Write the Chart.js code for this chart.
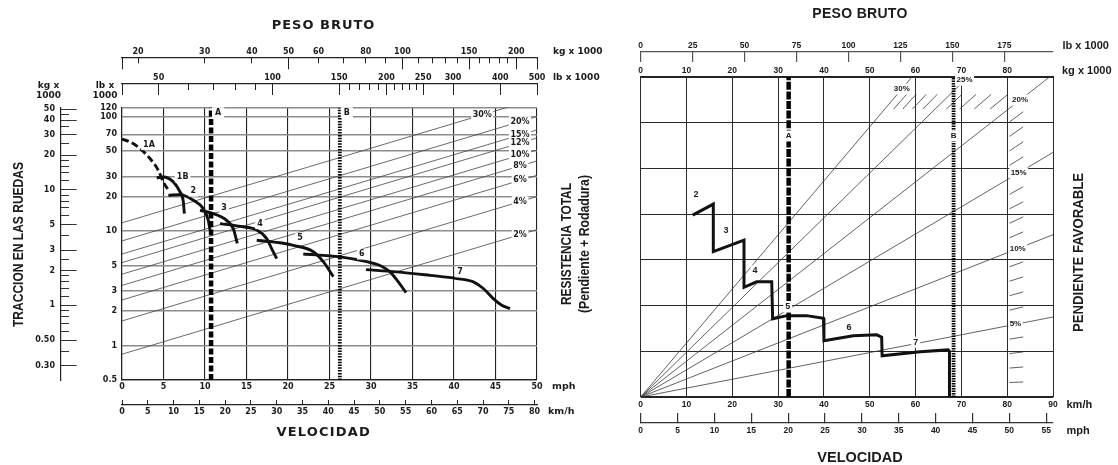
<!DOCTYPE html>
<html lang="es">
<head>
<meta charset="utf-8">
<title>Traccion en las ruedas / Pendiente favorable</title>
<script src="https://cdn.jsdelivr.net/npm/chart.js@4.4.1/dist/chart.umd.min.js"></script>
<style>
  html, body { margin: 0; padding: 0; background: #fff; }
  #sheet { position: relative; width: 1118px; height: 465px; overflow: hidden; }
  #sheet canvas { position: absolute; left: 0; top: 0; }
</style>
</head>
<body>
<div id="sheet">
  <canvas id="traccion" width="1118" height="465"></canvas>
  <canvas id="retardador" width="1118" height="465"></canvas>
</div>
<script>
const KG_PER_LB = 0.45359237;
const KMH_PER_MPH = 1.609344;

// ---------- left chart: rimpull (lb x 1000) vs speed (mph) ----------
const mphTicksL = [0, 5, 10, 15, 20, 25, 30, 35, 40, 45, 50];
const kmhTicksL = [0, 5, 10, 15, 20, 25, 30, 35, 40, 45, 50, 55, 60, 65, 70, 75, 80];
const lbSideTicks = [0.5, 1, 2, 3, 5, 10, 20, 30, 50, 70, 100, 120];
const kgSideTicks = [0.3, 0.4, 0.5, 0.6, 0.7, 0.8, 0.9, 1, 1.2, 1.4, 1.6, 1.8, 2, 2.5, 3, 4, 5,
                     6, 7, 8, 9, 10, 12, 14, 16, 18, 20, 25, 30, 35, 40, 45, 50];
const kgSideLabelled = [0.3, 0.5, 1, 2, 3, 5, 10, 20, 30, 40, 50];
const kgSideRange = [0.226, 51.6];   // as printed, slightly off the exact lb conversion
const lbTopTicks = [40, 50, 60, 70, 80, 90, 100, 150, 160, 170, 180, 190, 200, 210, 220, 230, 240, 250, 300, 400, 500];
const lbTopLabelled = [50, 100, 150, 200, 250, 300, 400, 500];
const kgTopTicks = [20, 30, 40, 50, 60, 70, 80, 90, 100, 110, 120, 130, 140, 150, 160, 170, 180, 190, 200];
const kgTopLabelled = [20, 30, 40, 50, 60, 80, 100, 150, 200];
const kgTopMajor = [50, 100, 150, 200];

// total resistance lines, rimpull read at 0 mph and at 50 mph
const gradeNamesL = ['30%', '20%', '15%', '12%', '10%', '8%', '6%', '4%', '2%'];
const gradeLb0 = [11.8, 8.2, 6.3, 5.3, 4.2, 3.35, 2.5, 1.64, 0.84];
const gradeLb50 = [144, 100, 76.5, 65, 51, 41, 30.7, 20, 10.3];

// gear curves
const gearNames = ['1A', '1B', '2', '3', '4', '5', '6', '7'];
const gearMph = [
  [0, 0.96, 2.17, 3.37, 4.37, 4.98, 5.58],
  [4.18, 4.98, 6.18, 6.99, 7.39, 7.51],
  [5.58, 6.99, 8.59, 9.8, 10.4, 10.6],
  [9.4, 11.0, 12.61, 13.41, 13.89],
  [11.81, 14.61, 16.23, 17.43, 18.04, 18.64],
  [16.23, 17.83, 19.04, 20.64, 23.05, 24.25, 25.46],
  [21.84, 26.27, 29.48, 31.08, 32.29, 33.29, 34.22],
  [29.4, 33.1, 37.11, 40.33, 42.33, 43.53, 44.73, 45.75, 46.75]
];
const gearLb = [
  [63.4, 60.1, 52.5, 43.0, 34.0, 26.9, 22.7],
  [29.1, 29.7, 26.9, 22.0, 18.0, 14.2],
  [20.5, 20.8, 18.6, 15.7, 12.4, 10.2],
  [15.2, 14.2, 12.4, 10.5, 7.8],
  [11.6, 10.9, 10.2, 8.6, 7.0, 5.75],
  [8.3, 8.1, 7.9, 7.5, 6.6, 5.4, 4.0],
  [6.3, 5.95, 5.4, 5.0, 4.4, 3.6, 2.9],
  [4.6, 4.4, 4.1, 3.85, 3.6, 3.15, 2.57, 2.25, 2.1]
];

// empty / loaded weight (kg x 1000)
const markerNames = ['A', 'B'];
const markerWeightLeft = [31.2, 68.3];

// ---------- right chart: retarder, speed (km/h) vs gross weight ----------
const kmhTicksR = [0, 10, 20, 30, 40, 50, 60, 70, 80, 90];
const mphTicksR = [0, 5, 10, 15, 20, 25, 30, 35, 40, 45, 50, 55];
const kgTicksR = [0, 10, 20, 30, 40, 50, 60, 70, 80];
const lbTicksR = [0, 25, 50, 75, 100, 125, 150, 175];
const rowTicksR = [0, 1, 2, 3, 4, 5, 6, 7];

const gradeNamesR = ['5%', '10%', '15%', '20%', '25%', '30%'];
const gradeHeight90 = [1.75, 3.55, 5.35, 7.06, 8.82, 10.64];   // height reached at 90 t
const risePerGrade = 0.354;                                    // same, per 1 % of grade
const stubGradesSide = [1, 2, 3, 4, 6, 7, 8, 9, 11, 12, 13, 14, 16, 17, 18, 19];
const stubGradesTop = [21, 22, 23, 24, 26, 27, 28, 29];

const gearNamesR = ['2', '3', '4', '5', '6', '7'];
const retarderKmh = [11.35, 15.85, 15.85, 22.55, 22.55, 25.3, 28.6, 28.8, 31.9, 36.2, 39.9, 40.0,
                     46.4, 51.5, 52.6, 52.7, 61.0, 67.1, 67.4, 67.4];
const retarderRow = [3.98, 4.22, 3.18, 3.43, 2.40, 2.52, 2.52, 1.71, 1.78, 1.78, 1.72, 1.23,
                     1.34, 1.36, 1.31, 0.90, 0.99, 1.03, 1.0, 0];
const markerWeightRight = [32.3, 68.3];

// ---------- helpers ----------
const INK = '#1b1b1b';
const fontL = size => ({ family: 'DejaVu Sans', size: size, weight: 'bold' });
const fontR = size => ({ family: 'Liberation Sans', size: size, weight: 'bold' });
const css = f => f.weight + ' ' + f.size + 'px "' + f.family + '"';

function fixedTicks(values) {
  return scale => { scale.ticks = values.map(v => ({ value: v })); };
}
function boxSize(px) {
  return scale => { if (scale.isHorizontal()) scale.height = px; else scale.width = px; };
}
// ticks are stroked from their outer end to the axis line, the dash keeps only the inner part
function shortTick(full, len) { return [0, full - len, len, full * 4]; }

function lineY(chart, dsIndex, xPx) {
  const pts = chart.getDatasetMeta(dsIndex).data;
  const a = pts[0], b = pts[pts.length - 1];
  return a.y + (b.y - a.y) * (xPx - a.x) / (b.x - a.x);
}

function putText(ctx, t) {
  ctx.save();
  ctx.font = t.font;
  ctx.textAlign = t.align || 'center';
  ctx.textBaseline = 'middle';
  if (t.spacing && 'letterSpacing' in ctx) ctx.letterSpacing = t.spacing + 'px';
  ctx.translate(t.x, t.y);
  if (t.rotate) ctx.rotate(t.rotate);
  if (t.bg) {
    const w = Math.min(ctx.measureText(t.text).width, t.maxWidth || 1e9);
    const x0 = t.align === 'left' ? 0 : (t.align === 'right' ? -w : -w / 2);
    ctx.fillStyle = '#fff';
    ctx.fillRect(x0 - t.bg, -5.5, w + 2 * t.bg, 11);
  }
  ctx.fillStyle = t.color || INK;
  if (t.maxWidth) ctx.fillText(t.text, 0, 0, t.maxWidth);
  else ctx.fillText(t.text, 0, 0);
  ctx.restore();
}

// ---------- left chart ----------
const leftSets = [];
gradeNamesL.forEach((g, i) => leftSets.push({
  label: g, xAxisID: 'x', yAxisID: 'y', order: 3,
  data: [{ x: 0, y: gradeLb0[i] }, { x: 50, y: gradeLb50[i] }],
  borderColor: '#444', borderWidth: 0.8
}));
gearNames.forEach((g, i) => leftSets.push({
  label: g, xAxisID: 'x', yAxisID: 'y', order: 2,
  data: gearMph[i].map((s, j) => ({ x: s, y: gearLb[i][j] })),
  borderColor: '#111', borderWidth: 2.9, cubicInterpolationMode: 'monotone',
  borderDash: g === '1A' ? [7, 3.5] : []
}));
markerNames.forEach((m, i) => leftSets.push({
  label: m, xAxisID: 'kg', yAxisID: 'y', order: 1,
  data: [{ x: markerWeightLeft[i], y: 0.5 }, { x: markerWeightLeft[i], y: 120 }],
  borderColor: '#000', borderWidth: i === 0 ? 4.5 : 3.8,
  borderDash: i === 0 ? [6, 2.5] : [1.5, 1.3]
}));

const gradeLabelMphL = [43.4, 47.95, 47.95, 47.95, 47.95, 47.95, 47.95, 47.95, 47.95];
const gearLabelMph = [3.25, 7.31, 8.59, 12.29, 16.63, 21.45, 28.88, 40.72];
const gearLabelLb = [56.9, 29.7, 22.3, 16.0, 11.6, 8.7, 6.3, 4.4];

function leftNotes(chart) {
  const sx = chart.scales.x, sy = chart.scales.y, sw = chart.scales.kg;
  const small = css(fontL(8));
  const head = css(fontL(9));
  const notes = [];
  gradeNamesL.forEach((g, i) => {
    const xp = sx.getPixelForValue(gradeLabelMphL[i]);
    notes.push({ text: g, x: xp, y: lineY(chart, i, xp), font: small, bg: 1.5 });
  });
  gearNames.forEach((g, i) => notes.push({
    text: g, x: sx.getPixelForValue(gearLabelMph[i]), y: sy.getPixelForValue(gearLabelLb[i]), font: small, bg: 2
  }));
  markerNames.forEach((m, i) => notes.push({
    text: m, x: sw.getPixelForValue(markerWeightLeft[i]) + 7, y: sy.getPixelForValue(108), font: small, bg: 3
  }));
  notes.push(
    { text: 'PESO BRUTO', x: 323.5, y: 25.5, font: css(fontL(13)), spacing: 1 },
    { text: 'kg x 1000', x: 553, y: 52, font: head, align: 'left' },
    { text: 'lb x 1000', x: 553, y: 78, font: head, align: 'left' },
    { text: 'kg x', x: 48.5, y: 86, font: head },
    { text: '1000', x: 48.5, y: 96, font: head },
    { text: 'lb x', x: 105, y: 86, font: head },
    { text: '1000', x: 105, y: 96, font: head },
    { text: 'mph', x: 552, y: 387, font: css(fontL(9.5)), align: 'left' },
    { text: 'km/h', x: 548, y: 412, font: css(fontL(9.5)), align: 'left' },
    { text: 'VELOCIDAD', x: 323.7, y: 432.5, font: css(fontL(13)), spacing: 1.2 },
    { text: 'TRACCION EN LAS RUEDAS', x: 19, y: 244.5, font: 'bold 15px "Liberation Sans"', rotate: -Math.PI / 2, maxWidth: 165 },
    { text: 'RESISTENCIA TOTAL', x: 566.5, y: 244, font: 'bold 15px "Liberation Sans"', rotate: -Math.PI / 2, maxWidth: 122 },
    { text: '(Pendiente + Rodadura)', x: 585.5, y: 244, font: 'bold 14px "Liberation Sans"', rotate: -Math.PI / 2, maxWidth: 138 }
  );
  return notes;
}

const tickFontL = fontL(8);
new Chart(document.getElementById('traccion'), {
  type: 'line',
  data: { datasets: leftSets },
  options: {
    responsive: false,
    animation: false,
    events: [],
    layout: { padding: { left: 8, right: 581, top: 37.7, bottom: 40 } },
    plugins: { legend: { display: false }, tooltip: { enabled: false } },
    elements: { point: { radius: 0, hitRadius: 0 }, line: { borderJoinStyle: 'round' } },
    scales: {
      x: {
        type: 'linear', axis: 'x', position: 'bottom', min: 0, max: 50,
        afterBuildTicks: fixedTicks(mphTicksL),
        ticks: { font: tickFontL, color: INK, padding: 1.9, maxRotation: 0, minRotation: 0, autoSkip: false },
        grid: { color: '#222', lineWidth: 1.1, drawTicks: false },
        border: { color: '#222', width: 1.2 },
        afterFit: boxSize(25)
      },
      kmh: {
        type: 'linear', axis: 'x', position: 'bottom', weight: 1, min: 0, max: 50 * KMH_PER_MPH,
        afterBuildTicks: fixedTicks(kmhTicksL),
        ticks: { font: tickFontL, color: INK, padding: 7.2, maxRotation: 0, minRotation: 0, autoSkip: false },
        grid: { drawOnChartArea: false, tickLength: -5, color: '#222', lineWidth: 1 },
        border: { color: '#222', width: 1.2 },
        afterFit: boxSize(20)
      },
      y: {
        type: 'logarithmic', axis: 'y', position: 'left', min: 0.5, max: 120,
        afterBuildTicks: fixedTicks(lbSideTicks),
        ticks: { font: tickFontL, color: INK, padding: 5, autoSkip: false, callback: v => String(v) },
        grid: { color: '#8c8c8c', lineWidth: 1.5, drawTicks: false },
        border: { color: '#222', width: 1.2 },
        afterFit: boxSize(61.3)
      },
      kgSide: {
        type: 'logarithmic', axis: 'y', position: 'left', weight: 1, min: kgSideRange[0], max: kgSideRange[1],
        afterBuildTicks: fixedTicks(kgSideTicks),
        ticks: {
          font: tickFontL, color: INK, padding: 21.7, autoSkip: false,
          callback: v => kgSideLabelled.includes(v) ? (v < 1 ? v.toFixed(2) : String(v)) : ''
        },
        grid: {
          drawOnChartArea: false, tickLength: -16, color: '#333', lineWidth: 1,
          tickBorderDash: c => kgSideLabelled.includes(c.tick.value) ? [] : shortTick(16, 8.3)
        },
        border: { color: '#222', width: 1.2 },
        afterFit: boxSize(52.7)
      },
      spacer: {
        type: 'linear', axis: 'x', position: 'top', weight: 0, min: 0, max: 1,
        ticks: { display: false },
        grid: { display: false, drawOnChartArea: false, drawTicks: false },
        border: { display: false },
        afterFit: boxSize(24.2)
      },
      lb: {
        type: 'logarithmic', axis: 'x', position: 'top', weight: 1, min: 40, max: 500,
        afterBuildTicks: fixedTicks(lbTopTicks),
        ticks: {
          font: tickFontL, color: INK, padding: 12.2, maxRotation: 0, minRotation: 0, autoSkip: false,
          callback: v => lbTopLabelled.includes(v) ? String(v) : ''
        },
        grid: {
          drawOnChartArea: false, tickLength: -11.7, color: '#222', lineWidth: 1,
          tickBorderDash: c => (lbTopLabelled.includes(c.tick.value) || c.index === 0) ? [] : shortTick(11.7, 6.7)
        },
        border: { color: '#222', width: 1.2 },
        afterFit: boxSize(25.6)
      },
      kg: {
        type: 'logarithmic', axis: 'x', position: 'top', weight: 2, min: 40 * KG_PER_LB, max: 500 * KG_PER_LB,
        afterBuildTicks: s => { s.ticks = [s.min].concat(kgTopTicks, [s.max]).map(v => ({ value: v })); },
        ticks: {
          font: tickFontL, color: INK, padding: 12.5, maxRotation: 0, minRotation: 0, autoSkip: false,
          callback: v => kgTopLabelled.includes(v) ? String(v) : ''
        },
        grid: {
          drawOnChartArea: false, tickLength: -11.6, color: '#222', lineWidth: 1,
          tickBorderDash: c => (kgTopMajor.includes(c.tick.value) || c.index === 0 || c.index === kgTopTicks.length + 1)
            ? [] : shortTick(11.6, 5.6)
        },
        border: { color: '#222', width: 1.2 },
        afterFit: boxSize(20)
      }
    }
  },
  plugins: [{
    id: 'notasTraccion',
    afterDatasetsDraw: chart => leftNotes(chart).forEach(t => putText(chart.ctx, t))
  }]
});

// ---------- right chart ----------
const rightSets = [];
gradeNamesR.forEach((g, i) => rightSets.push({
  label: g, xAxisID: 'kg', yAxisID: 'y', order: 3,
  data: [{ x: 0, y: 0 }, { x: 90, y: gradeHeight90[i] }],
  borderColor: '#3a3a3a', borderWidth: 0.8
}));
stubGradesSide.forEach(g => rightSets.push({
  label: g + '%', xAxisID: 'kg', yAxisID: 'y', order: 3,
  data: [80.5, 83.5].map(w => ({ x: w, y: g * risePerGrade * w / 90 })),
  borderColor: '#3a3a3a', borderWidth: 0.8
}));
stubGradesTop.forEach(g => rightSets.push({
  label: g + '%', xAxisID: 'kg', yAxisID: 'y', order: 3,
  data: [6.3, 6.62].map(h => ({ x: h * 90 / (g * risePerGrade), y: h })),
  borderColor: '#3a3a3a', borderWidth: 0.8
}));
rightSets.push({
  label: 'retardador', xAxisID: 'x', yAxisID: 'y', order: 2,
  data: retarderKmh.map((s, j) => ({ x: s, y: retarderRow[j] })),
  borderColor: '#111', borderWidth: 3, borderJoinStyle: 'miter'
});
markerNames.forEach((m, i) => rightSets.push({
  label: m, xAxisID: 'kg', yAxisID: 'y', order: 1,
  data: [{ x: markerWeightRight[i], y: 0 }, { x: markerWeightRight[i], y: 7 }],
  borderColor: '#000', borderWidth: i === 0 ? 4.5 : 3.8,
  borderDash: i === 0 ? [8, 1.6] : [1.4, 1.1]
}));

const gradeLabelKgR = [81.8, 82.3, 82.5, 82.8, 70.7, 57.0];
const gearLabelKmhR = [12.07, 18.62, 24.95, 32.09, 45.47, 60.03];
const gearLabelRowR = [4.44, 3.65, 2.76, 1.97, 1.53, 1.20];

function rightNotes(chart) {
  const sx = chart.scales.x, sy = chart.scales.y, sw = chart.scales.kg;
  const small = css(fontR(8));
  const unit = css(fontR(11));
  const notes = [];
  gradeNamesR.forEach((g, i) => {
    const xp = sw.getPixelForValue(gradeLabelKgR[i]);
    notes.push({ text: g, x: xp, y: lineY(chart, i, xp), font: small, bg: 1.5 });
  });
  gearNamesR.forEach((g, i) => notes.push({
    text: g, x: sx.getPixelForValue(gearLabelKmhR[i]), y: sy.getPixelForValue(gearLabelRowR[i]), font: css(fontR(9)), bg: 2
  }));
  markerNames.forEach((m, i) => notes.push({
    text: m, x: sw.getPixelForValue(markerWeightRight[i]), y: sy.getPixelForValue(5.71), font: small, bg: 1
  }));
  notes.push(
    { text: 'PESO BRUTO', x: 860, y: 14, font: css(fontR(14)), spacing: 0.3 },
    { text: 'lb x 1000', x: 1062.5, y: 46, font: unit, align: 'left' },
    { text: 'kg x 1000', x: 1062, y: 71, font: unit, align: 'left' },
    { text: 'km/h', x: 1066.5, y: 405, font: unit, align: 'left' },
    { text: 'mph', x: 1066.5, y: 431, font: unit, align: 'left' },
    { text: 'VELOCIDAD', x: 860, y: 457.7, font: css(fontR(14.5)) },
    { text: 'PENDIENTE FAVORABLE', x: 1079, y: 252.5, font: 'bold 15px "Liberation Sans"', rotate: -Math.PI / 2, maxWidth: 159 }
  );
  return notes;
}

const tickFontR = fontR(8.5);
new Chart(document.getElementById('retardador'), {
  type: 'line',
  data: { datasets: rightSets },
  options: {
    responsive: false,
    animation: false,
    events: [],
    layout: { padding: { left: 640.7, right: 65, top: 32, bottom: 22 } },
    plugins: { legend: { display: false }, tooltip: { enabled: false } },
    elements: { point: { radius: 0, hitRadius: 0 } },
    scales: {
      x: {
        type: 'linear', axis: 'x', position: 'bottom', min: 0, max: 90,
        afterBuildTicks: fixedTicks(kmhTicksR),
        ticks: { font: tickFontR, color: INK, padding: 2.9, maxRotation: 0, minRotation: 0, autoSkip: false },
        grid: { color: '#2a2a2a', lineWidth: 1, drawTicks: false },
        border: { color: '#222', width: 1.2 },
        afterFit: boxSize(26)
      },
      mph: {
        type: 'linear', axis: 'x', position: 'bottom', weight: 1, min: 0, max: 90 / KMH_PER_MPH,
        afterBuildTicks: fixedTicks(mphTicksR),
        ticks: { font: tickFontR, color: INK, padding: 12.6, maxRotation: 0, minRotation: 0, autoSkip: false },
        grid: { drawOnChartArea: false, tickLength: -10, color: '#333', lineWidth: 1.2 },
        border: { color: '#333', width: 1.2 },
        afterFit: boxSize(20)
      },
      y: {
        type: 'linear', axis: 'y', position: 'left', min: 0, max: 7,
        afterBuildTicks: fixedTicks(rowTicksR),
        ticks: { display: false },
        grid: { color: '#2a2a2a', lineWidth: 1, drawTicks: false },
        border: { display: false },
        afterFit: boxSize(0)
      },
      kg: {
        type: 'linear', axis: 'x', position: 'top', weight: 0, min: 0, max: 90,
        afterBuildTicks: fixedTicks(kgTicksR),
        ticks: { font: tickFontR, color: INK, padding: 1, maxRotation: 0, minRotation: 0, autoSkip: false },
        grid: { drawOnChartArea: false, drawTicks: false },
        border: { color: '#222', width: 1.2 },
        afterFit: boxSize(25)
      },
      lb: {
        type: 'linear', axis: 'x', position: 'top', weight: 1, min: 0, max: 90 / KG_PER_LB,
        afterBuildTicks: fixedTicks(lbTicksR),
        ticks: { font: tickFontR, color: INK, padding: 11.3, maxRotation: 0, minRotation: 0, autoSkip: false },
        grid: { drawOnChartArea: false, tickLength: -10, color: '#555', lineWidth: 1.2 },
        border: { color: '#555', width: 1.2 },
        afterFit: boxSize(20)
      }
    }
  },
  plugins: [{
    id: 'notasRetardador',
    afterDatasetsDraw: chart => rightNotes(chart).forEach(t => putText(chart.ctx, t))
  }]
});
</script>
</body>
</html>
